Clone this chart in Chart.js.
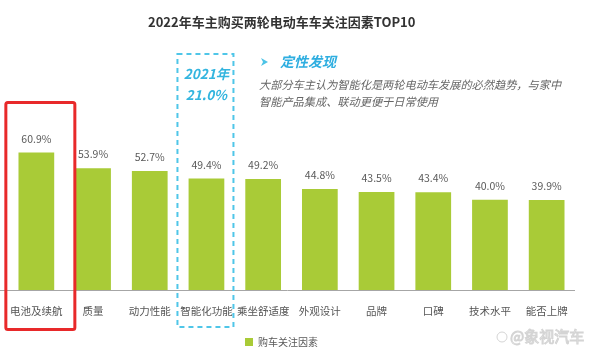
<!DOCTYPE html>
<html>
<head>
<meta charset="utf-8">
<script src="https://cdn.jsdelivr.net/npm/chart.js@4/dist/chart.umd.min.js"></script>
<style>
html,body{margin:0;padding:0;background:#fff;}
#wrap{width:600px;height:359px;position:relative;}
</style>
</head>
<body>
<div id="wrap"><canvas id="c" width="600" height="359"></canvas></div>
<script>
const categories = ['电池及续航','质量','动力性能','智能化功能','乘坐舒适度','外观设计','品牌','口碑','技术水平','能否上牌'];
const values = [60.9, 53.9, 52.7, 49.4, 49.2, 44.8, 43.5, 43.4, 40.0, 39.9];
const seriesName = '购车关注因素';
const titleText = '2022年车主购买两轮电动车车关注因素TOP10';
const highlightYear = '2021年';
const highlightValue = '21.0%';
const noteTitle = '定性发现';
const noteLines = ['大部分车主认为智能化是两轮电动车发展的必然趋势，与家中','智能产品集成、联动更便于日常使用'];
const watermark = '@象视汽车';

const CJK = '"Noto Sans CJK SC","Noto Sans",sans-serif';
const barColor = '#a9cb37';

const overlay = {
  id: 'overlay',
  afterDatasetsDraw(chart) {
    const ctx = chart.ctx;
    const x = chart.scales.x;
    const area = chart.chartArea;
    ctx.save();
    ctx.strokeStyle = '#a6a6a6';
    ctx.lineWidth = 1;
    ctx.beginPath();
    ctx.moveTo(0, Math.round(area.bottom) + 0.5);
    ctx.lineTo(area.right, Math.round(area.bottom) + 0.5);
    ctx.stroke();
    const meta = chart.getDatasetMeta(0);
    ctx.fillStyle = '#595959';
    ctx.font = '10.5px ' + CJK;
    ctx.textAlign = 'center';
    ctx.textBaseline = 'middle';
    meta.data.forEach((bar, i) => {
      ctx.fillText(values[i].toFixed(1) + '%', bar.x, bar.y - 14);
    });
    ctx.fillStyle = '#333333';
    ctx.font = 'bold 13px ' + CJK;
    ctx.textAlign = 'left';
    ctx.fillText(titleText, 148, 22);
    const c0 = x.getPixelForValue(0);
    ctx.strokeStyle = '#e8292a';
    ctx.lineWidth = 3;
    ctx.beginPath();
    ctx.roundRect(c0 - 30.5, 102.5, 69, 227, 2);
    ctx.stroke();
    const c3 = x.getPixelForValue(3);
    ctx.strokeStyle = '#4fc6e8';
    ctx.lineWidth = 2;
    ctx.setLineDash([5, 4]);
    ctx.strokeRect(c3 - 29, 54, 56, 273);
    ctx.setLineDash([]);
    ctx.fillStyle = '#33b5df';
    ctx.font = 'italic bold 13.5px ' + CJK;
    ctx.textAlign = 'center';
    ctx.fillText(highlightYear, c3, 74);
    ctx.fillText(highlightValue, c3, 95);
    ctx.textAlign = 'left';
    ctx.fillStyle = '#4cc3e6';
    ctx.beginPath();
    ctx.moveTo(261, 58); ctx.lineTo(268, 62); ctx.lineTo(261, 66); ctx.lineTo(263, 62); ctx.closePath();
    ctx.fill();
    ctx.fillStyle = '#2eaee0';
    ctx.font = 'italic bold 14px ' + CJK;
    ctx.fillText(noteTitle, 280, 62);
    ctx.fillStyle = '#666666';
    ctx.font = 'italic 11.2px ' + CJK;
    ctx.fillText(noteLines[0], 259, 85);
    ctx.fillText(noteLines[1], 259, 102);
    ctx.fillStyle = barColor;
    ctx.fillRect(245, 338, 8, 8);
    ctx.fillStyle = '#595959';
    ctx.font = '10px ' + CJK;
    ctx.fillText(seriesName, 258, 342);
    ctx.font = '15px ' + CJK;
    ctx.fillStyle = '#f6f6f6';
    ctx.strokeStyle = '#d4d4d4';
    ctx.lineWidth = 1;
    ctx.fillText(watermark, 510, 336);
    ctx.strokeText(watermark, 510, 336);
    ctx.beginPath();
    ctx.arc(502, 337, 5, 0, Math.PI * 2);
    ctx.stroke();
    ctx.restore();
  }
};

new Chart(document.getElementById('c'), {
  type: 'bar',
  data: {
    labels: categories,
    datasets: [{
      label: seriesName,
      data: values,
      backgroundColor: barColor,
      borderWidth: 0,
      barPercentage: 0.7,
      categoryPercentage: 0.9
    }]
  },
  options: {
    responsive: false,
    animation: false,
    devicePixelRatio: 1,
    layout: { padding: { left: 8, right: 25, top: 64, bottom: 28 } },
    plugins: { legend: { display: false }, tooltip: { enabled: false }, title: { display: false } },
    scales: {
      y: { display: false, min: 0, max: 100 },
      x: {
        afterFit: s => { s.paddingLeft = 0; s.paddingRight = 0; },
        grid: { display: false, drawTicks: false },
        border: { display: false },
        ticks: { color: '#555555', font: { size: 10.5, family: CJK }, padding: 14, maxRotation: 0, autoSkip: false }
      }
    }
  },
  plugins: [overlay]
});
</script>
</body>
</html>
